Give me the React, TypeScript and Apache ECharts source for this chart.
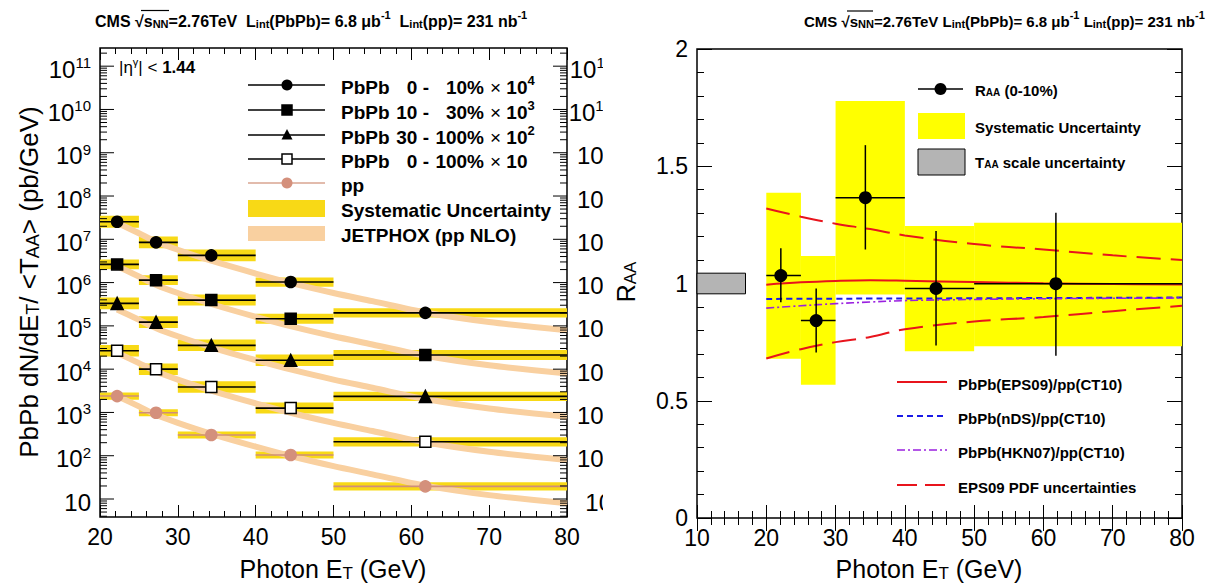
import React, { useEffect, useRef } from "react";
import * as echarts from "echarts";

const FONT = "'Liberation Sans', Arial, Helvetica, sans-serif";
const YELLOW_L = "#f8d916";
const YELLOW_R = "#ffff00";
const PEACH = "#f9d0a0";
const PINK = "#d4907c";

// ---------- left panel: spectra ----------
const binLo = [20, 25, 30, 40, 50];
const binHi = [25, 30, 40, 50, 80];
const binCenter = [22.2, 27.2, 34.3, 44.5, 61.8];

const pbpb0to10 = [2.54e7, 8.5e6, 4.25e6, 1.03e6, 2.0e5];
const pbpb10to30 = [2.63e6, 1.14e6, 3.94e5, 1.46e5, 2.12e4];
const pbpb30to100 = [3.31e5, 1.22e5, 3.55e4, 1.6e4, 2.35e3];
const pbpb0to100 = [2.66e4, 1.0e4, 3.86e3, 1.26e3, 210];
const ppYield = [2.39e3, 984, 301, 104, 19.6];

// systematic box half-size as a multiplicative factor
const sys0to10 = [1.38, 1.36, 1.36, 1.28, 1.28];
const sys10to30 = [1.3, 1.3, 1.34, 1.3, 1.3];
const sys30to100 = [1.36, 1.36, 1.36, 1.36, 1.28];
const sys0to100 = [1.36, 1.36, 1.36, 1.34, 1.28];
const sysPP = [1.21, 1.21, 1.21, 1.21, 1.24];

// JETPHOX pp NLO curve and the legend's scale factors
const jetphoxX = [22.2, 25, 27.3, 30, 34.4, 40, 45, 50, 55, 61.8, 70, 80];
const jetphoxPP = [2399, 1380, 871, 575, 316, 162, 93.3, 57.5, 37.2, 20.4, 12.3, 7.94];
const jetphoxScale = [1e4, 1e3, 1e2, 10, 1];

// log axis ticks
const logMajorExp = [1, 2, 3, 4, 5, 6, 7, 8, 9, 10, 11];
const logMinorExp = [0, 1, 2, 3, 4, 5, 6, 7, 8, 9, 10, 11];
const logMinorMult = [2, 3, 4, 5, 6, 7, 8, 9];
const LOG_MIN = 3.84;
const LOG_MAX = 2.63e11;

// ---------- right panel: R_AA ----------
const raaX = [22.1, 27.2, 34.3, 44.5, 61.8];
const raaVal = [1.034, 0.842, 1.366, 0.979, 0.999];
const raaStatLo = [0.92, 0.706, 1.145, 0.736, 0.692];
const raaStatHi = [1.15, 0.979, 1.59, 1.224, 1.302];
const raaSysLo = [0.679, 0.568, 0.953, 0.711, 0.732];
const raaSysHi = [1.387, 1.117, 1.778, 1.245, 1.259];
const taaX = [10, 17];
const taaY = [0.956, 1.044];

const theoryX = [20, 25, 30, 35, 40, 50, 60, 70, 80];
const eps09 = [0.995, 1.005, 1.011, 1.014, 1.012, 1.006, 1.001, 0.998, 0.996];
const nds = [0.934, 0.935, 0.935, 0.936, 0.936, 0.937, 0.938, 0.939, 0.94];
const hkn07 = [0.895, 0.905, 0.914, 0.921, 0.927, 0.932, 0.935, 0.937, 0.938];
const eps09Up = [1.32, 1.285, 1.255, 1.232, 1.205, 1.168, 1.145, 1.12, 1.1];
const eps09Lo = [0.68, 0.72, 0.75, 0.772, 0.805, 0.838, 0.857, 0.882, 0.905];

const leftValues = [pbpb0to10, pbpb10to30, pbpb30to100, pbpb0to100, ppYield];
const leftSys = [sys0to10, sys10to30, sys30to100, sys0to100, sysPP];
const leftStyles = [
  { symbol: "circle", size: 11, fill: "#000", stroke: "#000", bar: "#000" },
  { symbol: "rect", size: 11, fill: "#000", stroke: "#000", bar: "#000" },
  { symbol: "triangle", size: 12, fill: "#000", stroke: "#000", bar: "#000" },
  { symbol: "rect", size: 11, fill: "#fff", stroke: "#000", bar: "#000" },
  { symbol: "circle", size: 11, fill: PINK, stroke: PINK, bar: "#cf8e7b" },
];

function buildOption() {
  const tickStyle = { color: "#000", width: 1 };
  const axisCommon = {
    type: "value",
    axisLine: { show: false },
    splitLine: { show: false },
    minorSplitLine: { show: false },
  };
  const xAxes = [
    {
      ...axisCommon, gridIndex: 0, min: 20, max: 80, interval: 10,
      axisTick: { inside: true, length: 12, lineStyle: tickStyle },
      minorTick: { show: true, splitNumber: 5, length: 6, lineStyle: tickStyle },
      axisLabel: { fontSize: 23, color: "#000", margin: 8, fontFamily: FONT },
    },
    {
      ...axisCommon, gridIndex: 0, position: "top", min: 20, max: 80, interval: 10,
      axisTick: { inside: true, length: 12, lineStyle: tickStyle },
      minorTick: { show: true, splitNumber: 5, length: 6, lineStyle: tickStyle },
      axisLabel: { show: false },
    },
    {
      ...axisCommon, gridIndex: 1, min: 10, max: 80, interval: 10,
      axisTick: { inside: true, length: 13, lineStyle: tickStyle },
      minorTick: { show: true, splitNumber: 5, length: 7, lineStyle: tickStyle },
      axisLabel: { fontSize: 23, color: "#000", margin: 8, fontFamily: FONT },
    },
    {
      ...axisCommon, gridIndex: 1, position: "top", min: 10, max: 80, interval: 10,
      axisTick: { inside: true, length: 13, lineStyle: tickStyle },
      minorTick: { show: true, splitNumber: 5, length: 7, lineStyle: tickStyle },
      axisLabel: { show: false },
    },
  ];
  const yAxes = [
    {
      type: "log", logBase: 10, gridIndex: 0, min: LOG_MIN, max: LOG_MAX,
      axisLine: { show: false }, axisTick: { show: false }, axisLabel: { show: false },
      splitLine: { show: false },
    },
    {
      ...axisCommon, gridIndex: 1, min: 0, max: 2, interval: 0.5,
      axisTick: { inside: true, length: 15, lineStyle: tickStyle },
      minorTick: { show: true, splitNumber: 5, length: 7, lineStyle: tickStyle },
      axisLabel: { fontSize: 23, color: "#000", margin: 9, fontFamily: FONT },
    },
    {
      ...axisCommon, gridIndex: 1, position: "right", min: 0, max: 2, interval: 0.5,
      axisTick: { inside: true, length: 15, lineStyle: tickStyle },
      minorTick: { show: true, splitNumber: 5, length: 7, lineStyle: tickStyle },
      axisLabel: { show: false },
    },
  ];

  // left data tables
  const sysBoxData: number[][] = [];
  const barData: number[][] = [];
  leftValues.forEach((vals, g) => {
    vals.forEach((v, i) => {
      sysBoxData.push([binLo[i], binHi[i], v / leftSys[g][i], v * leftSys[g][i]]);
      barData.push([binLo[i], binHi[i], v, g]);
    });
  });

  const tickData: number[][] = [];
  logMinorExp.forEach((e) => {
    tickData.push([20, Math.pow(10, e), 1]);
    logMinorMult.forEach((m) => tickData.push([20, m * Math.pow(10, e), 0]));
  });
  const tickDataIn = tickData.filter((d) => d[1] >= LOG_MIN && d[1] <= LOG_MAX);
  const labelData = logMajorExp.map((e) => [20, Math.pow(10, e), e]);

  const series: any[] = [];

  series.push({
    type: "custom", xAxisIndex: 0, yAxisIndex: 0, clip: false, z: 2, silent: true,
    encode: { x: [0, 1], y: [2, 3] },
    data: sysBoxData,
    renderItem: (p: any, api: any) => {
      const a = api.coord([api.value(0), api.value(3)]);
      const b = api.coord([api.value(1), api.value(2)]);
      return { type: "rect", shape: { x: a[0], y: a[1], width: b[0] - a[0], height: b[1] - a[1] }, style: { fill: YELLOW_L } };
    },
  });

  jetphoxScale.forEach((s) => {
    series.push({
      type: "line", xAxisIndex: 0, yAxisIndex: 0, z: 3, silent: true,
      data: jetphoxX.map((x, i) => [x, jetphoxPP[i] * s]),
      smooth: 0.3, symbol: "none",
      lineStyle: { color: PEACH, width: 6 },
    });
  });

  series.push({
    type: "custom", xAxisIndex: 0, yAxisIndex: 0, clip: false, z: 4, silent: true,
    encode: { x: [0, 1], y: 2 },
    data: barData,
    renderItem: (p: any, api: any) => {
      const a = api.coord([api.value(0), api.value(2)]);
      const b = api.coord([api.value(1), api.value(2)]);
      const col = leftStyles[api.value(3)].bar;
      return { type: "line", shape: { x1: a[0], y1: a[1], x2: b[0], y2: b[1] }, style: { stroke: col, lineWidth: 1.6 } };
    },
  });

  leftValues.forEach((vals, g) => {
    const st = leftStyles[g];
    series.push({
      type: "scatter", xAxisIndex: 0, yAxisIndex: 0, z: 5, silent: true,
      data: binCenter.map((x, i) => [x, vals[i]]),
      symbol: st.symbol, symbolSize: st.size,
      itemStyle: { color: st.fill, borderColor: st.stroke, borderWidth: 1.5, opacity: 1 },
    });
  });

  // left log-axis ticks (both sides)
  series.push({
    type: "custom", xAxisIndex: 0, yAxisIndex: 0, clip: false, z: 6, silent: true,
    encode: { x: 0, y: 1 },
    data: tickDataIn,
    renderItem: (p: any, api: any) => {
      const v = api.value(1);
      const len = api.value(2) ? 14 : 7;
      const l = api.coord([20, v]);
      const r = api.coord([80, v]);
      return {
        type: "group",
        children: [
          { type: "line", shape: { x1: l[0], y1: l[1], x2: l[0] + len, y2: l[1] }, style: { stroke: "#000", lineWidth: 1 } },
          { type: "line", shape: { x1: r[0], y1: r[1], x2: r[0] - len, y2: r[1] }, style: { stroke: "#000", lineWidth: 1 } },
        ],
      };
    },
  });

  const richLbl = {
    b: { fontSize: 24, fontFamily: FONT, lineHeight: 26, verticalAlign: "bottom", fill: "#000" },
    s: { fontSize: 15, fontFamily: FONT, lineHeight: 13, verticalAlign: "top", fill: "#000" },
  };
  series.push({
    type: "custom", xAxisIndex: 0, yAxisIndex: 0, clip: false, z: 6, silent: true,
    encode: { x: 0, y: 1 },
    data: labelData,
    renderItem: (p: any, api: any) => {
      const v = api.value(1);
      const e = api.value(2);
      const l = api.coord([20, v]);
      const r = api.coord([80, v]);
      const txt = e === 1 ? "{b|10}" : `{b|10}{s|${e}}`;
      return {
        type: "group",
        children: [
          { type: "text", x: l[0] - 9, y: l[1] + 2, style: { text: txt, rich: richLbl, align: "right", verticalAlign: "middle" } },
          { type: "text", x: r[0] + 45, y: r[1] + 2, style: { text: txt, rich: richLbl, align: "right", verticalAlign: "middle" } },
        ],
      };
    },
  });

  // ---------- right panel ----------
  series.push({
    type: "custom", xAxisIndex: 2, yAxisIndex: 1, clip: false, z: 2, silent: true,
    encode: { x: [0, 1], y: [2, 3] },
    data: binLo.map((lo, i) => [lo, binHi[i], raaSysLo[i], raaSysHi[i]]),
    renderItem: (p: any, api: any) => {
      const a = api.coord([api.value(0), api.value(3)]);
      const b = api.coord([api.value(1), api.value(2)]);
      return { type: "rect", shape: { x: a[0], y: a[1], width: b[0] - a[0], height: b[1] - a[1] }, style: { fill: YELLOW_R } };
    },
  });
  series.push({
    type: "custom", xAxisIndex: 2, yAxisIndex: 1, clip: false, z: 2, silent: true,
    encode: { x: [0, 1], y: [2, 3] },
    data: [[taaX[0], taaX[1], taaY[0], taaY[1]]],
    renderItem: (p: any, api: any) => {
      const a = api.coord([api.value(0), api.value(3)]);
      const b = api.coord([api.value(1), api.value(2)]);
      return { type: "rect", shape: { x: a[0], y: a[1], width: b[0] - a[0], height: b[1] - a[1] }, style: { fill: "#b4b4b4", stroke: "#000", lineWidth: 1 } };
    },
  });

  const theory = [
    { d: eps09, color: "#e8141c", width: 2, type: "solid" },
    { d: nds, color: "#1a1ae6", width: 2, type: [6, 4] },
    { d: hkn07, color: "#9a20e0", width: 1.6, type: [8, 3, 2, 3] },
    { d: eps09Up, color: "#e8141c", width: 2, type: [24, 10] },
    { d: eps09Lo, color: "#e8141c", width: 2, type: [24, 10] },
  ];
  theory.forEach((t) => {
    series.push({
      type: "line", xAxisIndex: 2, yAxisIndex: 1, z: 4, silent: true,
      data: theoryX.map((x, i) => [x, t.d[i]]),
      smooth: 0.4, symbol: "none",
      lineStyle: { color: t.color, width: t.width, type: t.type },
    });
  });

  series.push({
    type: "custom", xAxisIndex: 2, yAxisIndex: 1, clip: false, z: 5, silent: true,
    encode: { x: [0, 2, 3], y: [1, 4, 5] },
    data: raaX.map((x, i) => [x, raaVal[i], binLo[i], binHi[i], raaStatLo[i], raaStatHi[i]]),
    renderItem: (p: any, api: any) => {
      const a = api.coord([api.value(2), api.value(1)]);
      const b = api.coord([api.value(3), api.value(1)]);
      const c = api.coord([api.value(0), api.value(4)]);
      const d = api.coord([api.value(0), api.value(5)]);
      return {
        type: "group",
        children: [
          { type: "line", shape: { x1: a[0], y1: a[1], x2: b[0], y2: b[1] }, style: { stroke: "#000", lineWidth: 1.5 } },
          { type: "line", shape: { x1: c[0], y1: c[1], x2: d[0], y2: d[1] }, style: { stroke: "#000", lineWidth: 1.5 } },
        ],
      };
    },
  });
  series.push({
    type: "scatter", xAxisIndex: 2, yAxisIndex: 1, z: 6, silent: true,
    data: raaX.map((x, i) => [x, raaVal[i]]),
    symbol: "circle", symbolSize: 13,
    itemStyle: { color: "#000", opacity: 1 },
  });

  // ---------- graphics: titles, headers, legends ----------
  const rb = (size: number, weight = "bold") => ({ fontSize: size, fontWeight: weight, fontFamily: FONT, fill: "#000" });
  const headRich = (size: number) => ({
    b: { ...rb(size), lineHeight: 20, verticalAlign: "bottom" },
    sub: { ...rb(11), lineHeight: 9, verticalAlign: "bottom" },
    sup: { ...rb(11), lineHeight: 12, verticalAlign: "top" },
  });
  const headLeft = "{b|CMS √s}{sub|NN}{b|=2.76TeV  L}{sub|int}{b|(PbPb)= 6.8 μb}{sup|-1}{b|  L}{sub|int}{b|(pp)= 231 nb}{sup|-1}";
  const headRight = "{b|CMS √s}{sub|NN}{b|=2.76TeV L}{sub|int}{b|(PbPb)= 6.8 μb}{sup|-1}{b| L}{sub|int}{b|(pp)= 231 nb}{sup|-1}";

  const axRich = (size: number) => ({
    n: { fontSize: size, fontFamily: FONT, fill: "#000", lineHeight: size + 4, verticalAlign: "bottom" },
    sub: { fontSize: Math.round(size * 0.68), fontFamily: FONT, fill: "#000", lineHeight: 12, verticalAlign: "bottom" },
  });

  const legRich = (size: number) => ({
    b: { ...rb(size), lineHeight: size + 4, verticalAlign: "bottom" },
    n: { ...rb(size, "normal"), lineHeight: size + 4, verticalAlign: "bottom" },
    sup: { ...rb(Math.round(size * 0.68)), lineHeight: Math.round(size * 0.7), verticalAlign: "top" },
    sub: { ...rb(Math.round(size * 0.68)), lineHeight: Math.round(size * 0.5), verticalAlign: "bottom" },
  });
  const lr19 = legRich(19);
  const lr15 = legRich(15);

  const graphic: any[] = [];
  // headers
  graphic.push({ type: "text", x: 95, y: 19, z: 60, style: { text: headLeft, rich: headRich(16), verticalAlign: "middle" } });
  graphic.push({ type: "line", z: 60, shape: { x1: 141, y1: 10.5, x2: 169, y2: 10.5 }, style: { stroke: "#000", lineWidth: 1.2 } });
  graphic.push({ type: "text", x: 804, y: 19, z: 60, style: { text: headRight, rich: headRich(15), verticalAlign: "middle" } });
  graphic.push({ type: "line", z: 60, shape: { x1: 847, y1: 11, x2: 873, y2: 11 }, style: { stroke: "#000", lineWidth: 1.2 } });

  // cover to clip left panel's right labels
  graphic.push({ type: "rect", z: 50, shape: { x: 603, y: 30, width: 38, height: 510 }, style: { fill: "#fff" } });

  // axis titles
  graphic.push({ type: "text", x: 333, y: 567, z: 60, style: { text: "{n|Photon E}{sub|T}{n| (GeV)}", rich: axRich(25), align: "center", verticalAlign: "middle" } });
  graphic.push({ type: "text", x: 929, y: 567, z: 60, style: { text: "{n|Photon E}{sub|T}{n| (GeV)}", rich: axRich(25), align: "center", verticalAlign: "middle" } });
  graphic.push({ type: "text", x: 27, y: 282, rotation: Math.PI / 2, z: 60, style: { text: "{n|PbPb dN/dE}{sub|T}{n|/ <T}{sub|AA}{n|> (pb/GeV)}", rich: axRich(26), align: "center", verticalAlign: "middle" } });
  graphic.push({ type: "text", x: 624, y: 282, rotation: Math.PI / 2, z: 60, style: { text: "{n|R}{sub|AA}", rich: axRich(25), align: "center", verticalAlign: "middle" } });

  // eta label
  graphic.push({
    type: "text", x: 119, y: 66, z: 60,
    style: {
      text: "{n||η}{sup|γ}{n|| < }{b|1.44}",
      rich: {
        n: { ...rb(17, "normal"), lineHeight: 20, verticalAlign: "bottom" },
        b: { ...rb(17), lineHeight: 20, verticalAlign: "bottom" },
        sup: { ...rb(11, "normal"), lineHeight: 10, verticalAlign: "top" },
      },
      verticalAlign: "middle",
    },
  });

  // left legend
  const rowsY = [85, 110, 135, 159, 183];
  const rangeTxt = ["0 -", "10 -", "30 -", "0 -"];
  const pctTxt = ["10%", "30%", "100%", "100%"];
  const factTxt = ["{n|× }{b|10}{sup|4}", "{n|× }{b|10}{sup|3}", "{n|× }{b|10}{sup|2}", "{n|× }{b|10}"];
  rowsY.forEach((y, g) => {
    const st = leftStyles[g];
    graphic.push({ type: "line", z: 60, shape: { x1: 248, y1: y, x2: 325, y2: y }, style: { stroke: g === 4 ? "#d9a591" : "#000", lineWidth: 1.5 } });
    const cx = 287;
    if (st.symbol === "circle") {
      graphic.push({ type: "circle", z: 61, shape: { cx, cy: y, r: 5.5 }, style: { fill: st.fill } });
    } else if (st.symbol === "triangle") {
      graphic.push({ type: "polygon", z: 61, shape: { points: [[cx, y - 6], [cx - 5.5, y + 4.5], [cx + 5.5, y + 4.5]] }, style: { fill: "#000" } });
    } else {
      graphic.push({ type: "rect", z: 61, shape: { x: cx - 5, y: y - 5, width: 10, height: 10 }, style: { fill: st.fill, stroke: "#000", lineWidth: 1.5 } });
    }
    if (g < 4) {
      graphic.push({ type: "text", z: 60, x: 341, y, style: { text: "{b|PbPb}", rich: lr19, verticalAlign: "middle" } });
      graphic.push({ type: "text", z: 60, x: 429, y, style: { text: `{b|${rangeTxt[g]}}`, rich: lr19, align: "right", verticalAlign: "middle" } });
      graphic.push({ type: "text", z: 60, x: 484, y, style: { text: `{b|${pctTxt[g]}}`, rich: lr19, align: "right", verticalAlign: "middle" } });
      graphic.push({ type: "text", z: 60, x: 490, y, style: { text: factTxt[g], rich: lr19, verticalAlign: "middle" } });
    } else {
      graphic.push({ type: "text", z: 60, x: 341, y, style: { text: "{b|pp}", rich: lr19, verticalAlign: "middle" } });
    }
  });
  graphic.push({ type: "rect", z: 60, shape: { x: 248, y: 200, width: 77, height: 17 }, style: { fill: YELLOW_L } });
  graphic.push({ type: "text", z: 60, x: 341, y: 208, style: { text: "{b|Systematic Uncertainty}", rich: lr19, verticalAlign: "middle" } });
  graphic.push({ type: "rect", z: 60, shape: { x: 248, y: 226, width: 77, height: 15 }, style: { fill: PEACH } });
  graphic.push({ type: "text", z: 60, x: 341, y: 233, style: { text: "{b|JETPHOX (pp NLO)}", rich: lr19, verticalAlign: "middle" } });

  // right legend (top)
  graphic.push({ type: "line", z: 60, shape: { x1: 918, y1: 89, x2: 963, y2: 89 }, style: { stroke: "#000", lineWidth: 1.5 } });
  graphic.push({ type: "circle", z: 61, shape: { cx: 940.5, cy: 89, r: 6 }, style: { fill: "#000" } });
  graphic.push({ type: "text", z: 60, x: 975, y: 88, style: { text: "{b|R}{sub|AA}{b| (0-10%)}", rich: lr15, verticalAlign: "middle" } });
  graphic.push({ type: "rect", z: 60, shape: { x: 918, y: 113, width: 47, height: 26 }, style: { fill: YELLOW_R } });
  graphic.push({ type: "text", z: 60, x: 975, y: 125, style: { text: "{b|Systematic Uncertainty}", rich: lr15, verticalAlign: "middle" } });
  graphic.push({ type: "rect", z: 60, shape: { x: 918, y: 149, width: 47, height: 26 }, style: { fill: "#b4b4b4", stroke: "#000", lineWidth: 1 } });
  graphic.push({ type: "text", z: 60, x: 975, y: 160, style: { text: "{b|T}{sub|AA}{b| scale uncertainty}", rich: lr15, verticalAlign: "middle" } });

  // right legend (bottom)
  const leg2 = [
    { y: 382, txt: "PbPb(EPS09)/pp(CT10)", color: "#e8141c", dash: null, w: 2 },
    { y: 416, txt: "PbPb(nDS)/pp(CT10)", color: "#1a1ae6", dash: [6, 4], w: 2 },
    { y: 450, txt: "PbPb(HKN07)/pp(CT10)", color: "#9a20e0", dash: [8, 3, 2, 3], w: 1.6 },
    { y: 485, txt: "EPS09 PDF uncertainties", color: "#e8141c", dash: [20, 8], w: 2 },
  ];
  leg2.forEach((l) => {
    graphic.push({ type: "line", z: 60, shape: { x1: 897, y1: l.y, x2: 947, y2: l.y }, style: { stroke: l.color, lineWidth: l.w, lineDash: l.dash || undefined } });
    graphic.push({ type: "text", z: 60, x: 958, y: l.y, style: { text: `{b|${l.txt}}`, rich: lr15, verticalAlign: "middle" } });
  });

  return {
    animation: false,
    backgroundColor: "#fff",
    grid: [
      { left: 100, top: 48, width: 467, height: 469, show: true, borderColor: "#000", borderWidth: 1.5, backgroundColor: "transparent", containLabel: false, outerBoundsMode: "none" },
      { left: 697, top: 49, width: 485, height: 469, show: true, borderColor: "#000", borderWidth: 1.5, backgroundColor: "transparent", containLabel: false, outerBoundsMode: "none" },
    ],
    xAxis: xAxes,
    yAxis: yAxes,
    series,
    graphic,
  };
}

export default function App() {
  const ref = useRef<HTMLDivElement>(null);
  useEffect(() => {
    if (!ref.current) return;
    const chart = echarts.init(ref.current, null, { renderer: "svg" });
    chart.setOption(buildOption() as any);
    return () => chart.dispose();
  }, []);
  return (
    <div
      ref={ref}
      style={{ position: "fixed", left: 0, top: 0, width: 1208, height: 588, background: "#fff" }}
    />
  );
}
